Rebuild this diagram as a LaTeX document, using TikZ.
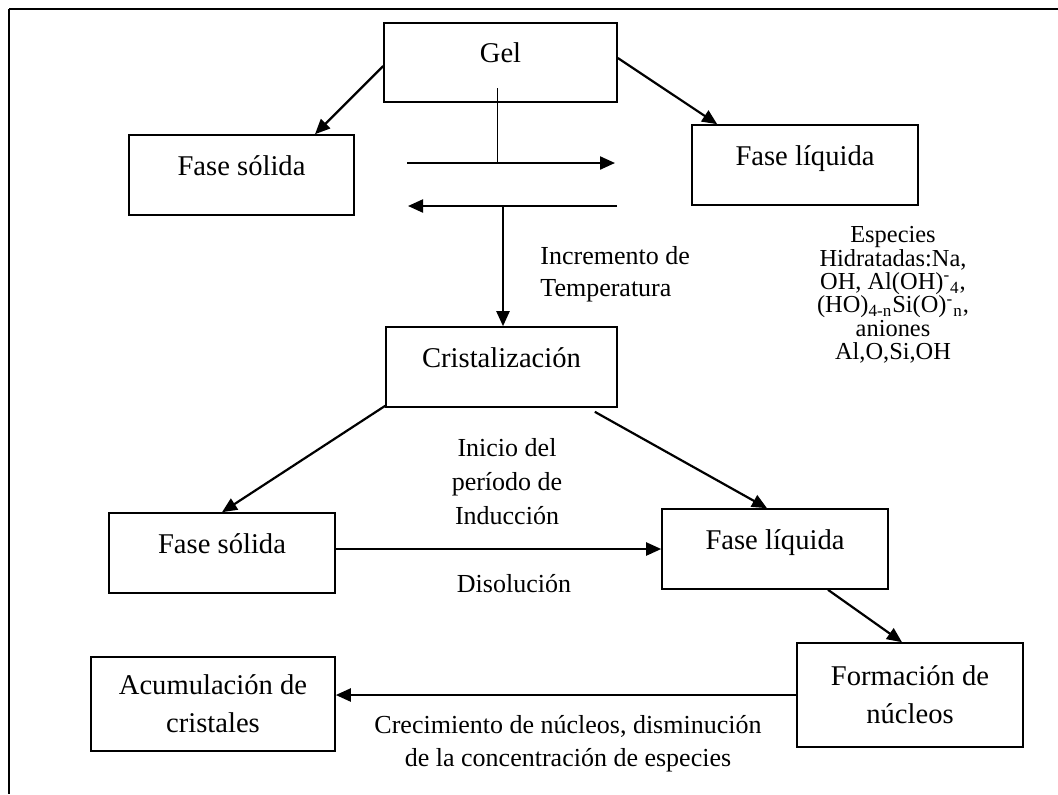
\documentclass[tikz,border=0pt]{standalone}
\usepackage{fontspec}
\setmainfont{Liberation Serif}
\usetikzlibrary{arrows.meta,calc}

\newcommand\apretado{\lineskiplimit=-20pt\relax}

\tikzset{
  caja/.style={draw, line width=0.8pt, minimum width=113pt, minimum height=40pt, inner sep=0pt,
    text height=10pt, text depth=10pt, align=center, font=\fontsize{14.3}{19}\selectfont},
  cajados/.style={draw, line width=0.8pt, minimum width=113pt, inner sep=0pt,
    align=center, font=\fontsize{14.3}{19}\selectfont},
  rotulo/.style={inner sep=0pt, align=center, font=\fontsize{13}{16.5}\selectfont},
  flecha/.style={line width=1.1pt, -{Triangle[length=7.5pt,width=6.5pt]}},
}

\begin{document}
\begin{tikzpicture}[x=0.5pt,y=0.5pt,yscale=-1,xscale=1]
    \useasboundingbox (0,0) rectangle (1058,794);
    %Straight Lines: frame
    \draw [line width=1.3pt] (9,9) -- (1058,9) ;
    \draw [line width=1pt] (9,9) -- (9,794) ;

    %Shape: Rectangle
    \draw (500.5,62.5) node [caja, minimum width=116.5pt, minimum height=39.5pt] (gel) {Gel};
    %Shape: Rectangle
    \draw (241.5,175) node [caja, minimum width=112.5pt] (solido) {Fase sólida};
    %Shape: Rectangle
    \draw (805,165) node [caja] (liquido) {Fase líquida};
    %Shape: Rectangle
    \draw (501.5,367) node [caja, minimum width=115.5pt] (cristal) {Cristalización};
    %Shape: Rectangle
    \draw (222,553) node [caja] (solidodos) {Fase sólida};
    %Shape: Rectangle
    \draw (775,549) node [caja] (liquidodos) {Fase líquida};
    %Shape: Rectangle
    \draw (910,695) node [cajados, minimum height=52pt] (nucleos) {Formación de\\núcleos};
    %Shape: Rectangle
    \draw (213,704) node [cajados, minimum width=122pt, minimum height=47pt] (acumula) {Acumulación de\\cristales};

    %Straight Lines
    \draw [flecha] ($(gel.west)+(0,3.5)$) -- ($(solido.north)+(73.5,0)$) ;
    \draw [flecha] ($(gel.east)+(0,-4.5)$) -- ($(liquido.north west)+(26,0)$) ;
    %Straight Lines: equilibrio
    \coordinate (gelpie) at (497,88) ;
    \coordinate (idaA) at (407,163) ;
    \coordinate (idaB) at (615,163) ;
    \coordinate (vueltaA) at (617,206) ;
    \coordinate (vueltaB) at (408,206) ;
    \coordinate (baja) at (503,206) ;
    \draw [line width=0.5pt] (gelpie) -- (gelpie |- idaA) ;
    \draw [flecha] (idaA) -- (idaB) ;
    \draw [flecha] (vueltaA) -- (vueltaB) ;
    \draw [flecha] (baja) -- (baja |- cristal.north) ;
    %Straight Lines
    \draw [flecha] ($(cristal.south west)+(0,-2)$) -- (solidodos.north) ;
    \draw [flecha] ($(cristal.south east)+(-23,4)$) -- ($(liquidodos.north)+(-8,0)$) ;
    \draw [flecha] (solidodos.east |- liquidodos.west) -- (liquidodos.west) ;
    \draw [flecha] ($(liquidodos.south)+(53,0)$) -- ($(nucleos.north)+(-8,0)$) ;
    \draw [flecha] (nucleos.west) -- (nucleos.west -| acumula.east) ;

    % Text Node
    \draw (540,274) node [rotulo, anchor=west, align=left, font=\fontsize{13}{16}\selectfont] (incremento) {Incremento de\\Temperatura};
    % Text Node
    \draw (893,295) node [rotulo, font=\fontsize{12.2}{11.65}\selectfont\apretado] (especies) {Especies\\Hidratadas:Na,\\OH, Al(OH)\textsuperscript{-}\textsubscript{4},\\(HO)\textsubscript{4-n}Si(O)\textsuperscript{-}\textsubscript{n},\\aniones\\Al,O,Si,OH};
    % Text Node
    \draw (507,482) node [rotulo, font=\fontsize{13}{17}\selectfont] (inicio) {Inicio del\\período de\\Inducción};
    % Text Node
    \draw (514,584) node [rotulo] (disolucion) {Disolución};
    % Text Node
    \draw (568,743.5) node [rotulo] (crecimiento) {Crecimiento de núcleos, disminución\\de la concentración de especies};
\end{tikzpicture}
\end{document}
